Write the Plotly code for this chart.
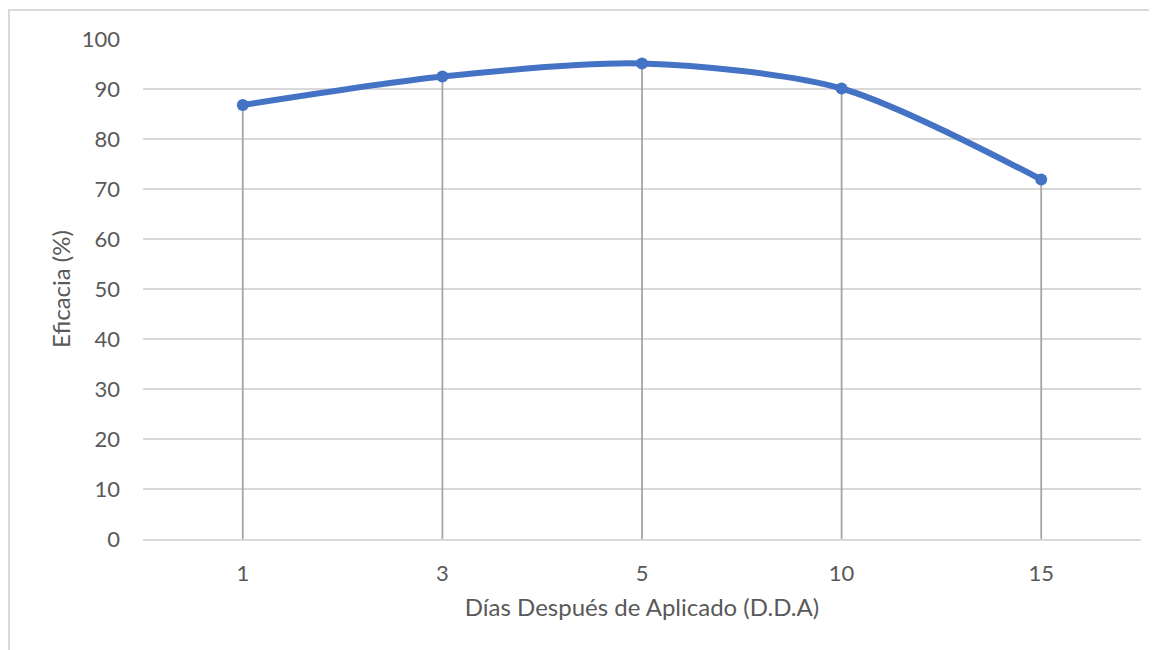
import plotly.graph_objects as go

dias = ["1", "3", "5", "10", "15"]
eficacia = [86.8, 92.5, 95.1, 90.1, 71.9]

x_title = "Días Después de Aplicado (D.D.A)"
y_title = "Eficacia (%)"

FONT = "Lato"
TXT = "#595959"
GRID = "#d9d9d9"
BLUE = "#4472C4"

fig = go.Figure()

# drop lines
for d, v in zip(dias, eficacia):
    fig.add_trace(go.Scatter(x=[d, d], y=[0, v], mode="lines",
                             line=dict(color="#a6a6a6", width=1.8),
                             hoverinfo="skip", showlegend=False))

fig.add_trace(go.Scatter(x=dias, y=eficacia, mode="lines+markers",
                         line=dict(color=BLUE, width=6, shape="spline", smoothing=0.8),
                         marker=dict(color=BLUE, size=12),
                         showlegend=False))

fig.update_layout(
    width=1149, height=642,
    margin=dict(l=135, r=16, t=31, b=111),
    paper_bgcolor="white", plot_bgcolor="white",
    font=dict(family=FONT, color=TXT, size=22),
    shapes=[dict(type="rect", xref="paper", yref="paper",
                 x0=-0.1343, x1=1.2, y0=-0.4, y1=1.058,
                 line=dict(color=GRID, width=2), layer="below")],
)
fig.update_xaxes(type="category", range=[-0.5, 4.5], showgrid=False,
                 showline=True, linecolor=GRID, linewidth=1.5, zeroline=False,
                 ticks="", ticklabelstandoff=14,
                 tickfont=dict(size=22, color=TXT, family=FONT),
                 title=dict(text=x_title, font=dict(size=24, color=TXT, family=FONT), standoff=14))
fig.update_yaxes(range=[0, 100], dtick=10, showgrid=True, gridcolor=GRID, gridwidth=1.5,
                 zeroline=False, showline=False, ticks="", ticklabelstandoff=22,
                 tickfont=dict(size=22, color=TXT, family=FONT),
                 title=dict(text=y_title, font=dict(size=24, color=TXT, family=FONT), standoff=4))

fig.write_html("out.html")
